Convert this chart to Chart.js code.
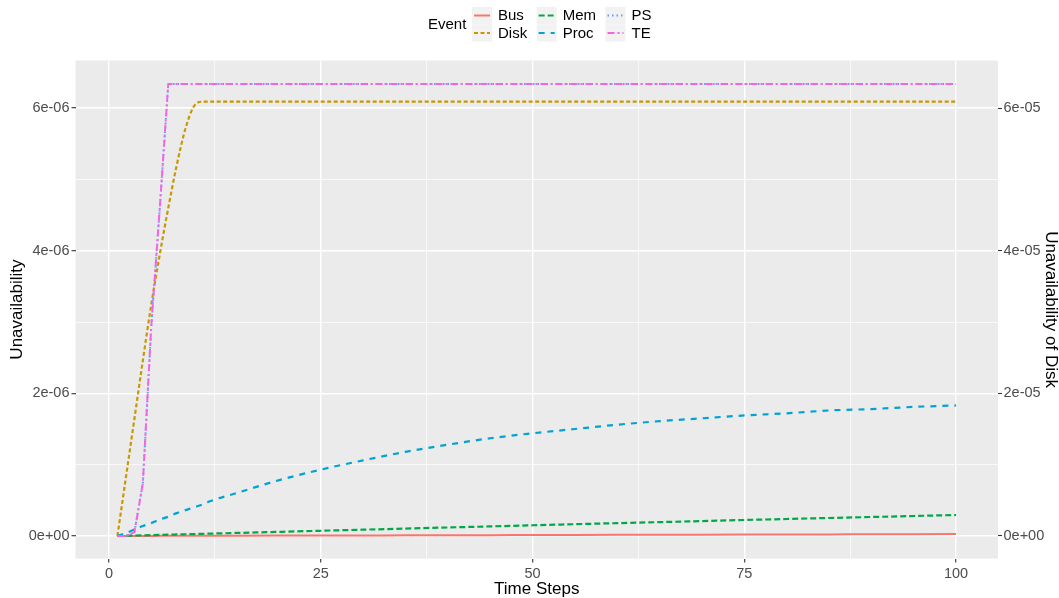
<!DOCTYPE html>
<html>
<head>
<meta charset="utf-8">
<title>Unavailability over time steps</title>
<script src="https://cdn.jsdelivr.net/npm/chart.js@4.4.1/dist/chart.umd.min.js"></script>
<style>
  html, body { margin: 0; padding: 0; background: #ffffff; }
  #wrap { width: 1059px; height: 598px; }
</style>
</head>
<body>
<div id="wrap"><canvas id="chart" width="1059" height="598"></canvas></div>
<script>
// ---- data -------------------------------------------------------------
const timeSteps = [1, 2, 3, 4, 5, 6, 7, 8, 9, 10, 11, 12,
  15, 20, 25, 30, 35, 40, 45, 50, 55, 60, 65, 70, 75, 80, 85, 90, 95, 100];

const busValues = [0, 0.0003e-6, 0.0005e-6, 0.0008e-6, 0.001e-6, 0.0013e-6, 0.0016e-6, 0.0018e-6,
  0.0021e-6, 0.0023e-6, 0.0026e-6, 0.0029e-6,
  0.0036e-6, 0.0049e-6, 0.0062e-6, 0.0075e-6, 0.0088e-6, 0.0101e-6, 0.0114e-6, 0.0127e-6,
  0.014e-6, 0.0153e-6, 0.0166e-6, 0.018e-6, 0.0193e-6, 0.0206e-6, 0.0219e-6, 0.0232e-6, 0.0245e-6, 0.0258e-6];

// Disk is read against the right-hand axis
const diskValues = [0, 8.2e-6, 16.4e-6, 24.6e-6, 32.5e-6, 39.5e-6, 46e-6, 52e-6,
  57e-6, 60.2e-6, 60.9e-6, 60.9e-6,
  60.9e-6, 60.9e-6, 60.9e-6, 60.9e-6, 60.9e-6, 60.9e-6, 60.9e-6, 60.9e-6,
  60.9e-6, 60.9e-6, 60.9e-6, 60.9e-6, 60.9e-6, 60.9e-6, 60.9e-6, 60.9e-6, 60.9e-6, 60.9e-6];

const memValues = [0, 0.003e-6, 0.006e-6, 0.009e-6, 0.012e-6, 0.015e-6, 0.018e-6, 0.021e-6,
  0.024e-6, 0.027e-6, 0.030e-6, 0.033e-6,
  0.042e-6, 0.057e-6, 0.073e-6, 0.088e-6, 0.104e-6, 0.119e-6, 0.134e-6, 0.150e-6,
  0.165e-6, 0.180e-6, 0.194e-6, 0.209e-6, 0.224e-6, 0.238e-6, 0.252e-6, 0.266e-6, 0.280e-6, 0.294e-6];

const procValues = [0, 0.04e-6, 0.09e-6, 0.14e-6, 0.18e-6, 0.23e-6, 0.27e-6, 0.32e-6,
  0.36e-6, 0.40e-6, 0.44e-6, 0.49e-6,
  0.60e-6, 0.78e-6, 0.93e-6, 1.06e-6, 1.18e-6, 1.28e-6, 1.37e-6, 1.44e-6,
  1.50e-6, 1.56e-6, 1.61e-6, 1.65e-6, 1.69e-6, 1.72e-6, 1.76e-6, 1.78e-6, 1.81e-6, 1.83e-6];

const psValues = [0, 0, 0.05e-6, 0.74e-6, 2.95e-6, 4.6e-6, 6.34e-6, 6.34e-6,
  6.34e-6, 6.34e-6, 6.34e-6, 6.34e-6,
  6.34e-6, 6.34e-6, 6.34e-6, 6.34e-6, 6.34e-6, 6.34e-6, 6.34e-6, 6.34e-6,
  6.34e-6, 6.34e-6, 6.34e-6, 6.34e-6, 6.34e-6, 6.34e-6, 6.34e-6, 6.34e-6, 6.34e-6, 6.34e-6];

const teValues = [0, 0, 0.05e-6, 0.74e-6, 2.95e-6, 4.6e-6, 6.34e-6, 6.34e-6,
  6.34e-6, 6.34e-6, 6.34e-6, 6.34e-6,
  6.34e-6, 6.34e-6, 6.34e-6, 6.34e-6, 6.34e-6, 6.34e-6, 6.34e-6, 6.34e-6,
  6.34e-6, 6.34e-6, 6.34e-6, 6.34e-6, 6.34e-6, 6.34e-6, 6.34e-6, 6.34e-6, 6.34e-6, 6.34e-6];

const xTicks = [0, 25, 50, 75, 100];
const xTickLabels = ['0', '25', '50', '75', '100'];
const yTicks = [0, 2e-6, 4e-6, 6e-6];
const yTickLabels = ['0e+00', '2e-06', '4e-06', '6e-06'];
const diskTicks = [0, 2e-5, 4e-5, 6e-5];
const diskTickLabels = ['0e+00', '2e-05', '4e-05', '6e-05'];

// ---- styling ------------------------------------------------------------
const FONT = "'Liberation Sans', Arial, Helvetica, sans-serif";
const TICK_GREY = '#4D4D4D';

const series = [
  { label: 'Bus',  values: busValues,  axis: 'y',  color: '#F8766D', dash: [],            width: 2,   smooth: true  },
  { label: 'Disk', values: diskValues, axis: 'y2', color: '#C79800', dash: [4, 2.5],      width: 2.2, smooth: true  },
  { label: 'Mem',  values: memValues,  axis: 'y',  color: '#00A84A', dash: [6, 3],        width: 2.2, smooth: true  },
  { label: 'Proc', values: procValues, axis: 'y',  color: '#00A3D1', dash: [6, 6],        width: 2.2, smooth: true  },
  { label: 'PS',   values: psValues,   axis: 'y',  color: '#619CFF', dash: [1.5, 3],      width: 2,   smooth: false },
  { label: 'TE',   values: teValues,   axis: 'y',  color: '#F564E3', dash: [7, 3, 2, 3],  width: 2,   smooth: false }
];

// minor grid positions sit halfway between the labelled breaks
const xGrid = [0, 12.5, 25, 37.5, 50, 62.5, 75, 87.5, 100];
const yGrid = [0, 1e-6, 2e-6, 3e-6, 4e-6, 5e-6, 6e-6];

const near = (a, b) => Math.abs(a - b) <= Math.abs(b) * 1e-9 + 1e-15;
const isMajor = (list, v) => list.some(t => near(v, t));

const datasets = series.map((s, i) => ({
  label: s.label,
  data: timeSteps.map((t, k) => ({ x: t, y: s.values[k] })),
  yAxisID: s.axis,
  borderColor: s.color,
  backgroundColor: s.color,
  borderDash: s.dash,
  borderWidth: s.width,
  borderCapStyle: 'butt',
  borderJoinStyle: 'round',
  cubicInterpolationMode: s.smooth ? 'monotone' : 'default',
  tension: 0,
  pointRadius: 0,
  fill: false,
  order: series.length - i   // later series are painted on top
}));

// grey plotting panel behind the grid
const panelPlugin = {
  id: 'panel',
  beforeDraw(chart) {
    const { ctx, chartArea: a } = chart;
    ctx.save();
    ctx.fillStyle = '#EBEBEB';
    ctx.fillRect(a.left, a.top, a.right - a.left, a.bottom - a.top);
    ctx.restore();
  }
};

// legend laid out in columns: title, then two keys per column
const legendPlugin = {
  id: 'eventLegend',
  afterDraw(chart) {
    const { ctx } = chart;
    const ds = chart.data.datasets;
    const rowsY = [15.5, 33];
    const keyW = 20, keyH = 17.3;
    ctx.save();
    ctx.font = '15px ' + FONT;
    ctx.textBaseline = 'middle';
    ctx.fillStyle = '#000000';
    ctx.textAlign = 'left';
    ctx.fillText('Event', 428, 25);
    let x = 472;
    for (let c = 0; c < 3; c++) {
      let maxW = 0;
      for (let r = 0; r < 2; r++) {
        const d = ds[c * 2 + r];
        const cy = rowsY[r];
        ctx.fillStyle = '#F2F2F2';
        ctx.fillRect(x, cy - keyH / 2, keyW, keyH);
        ctx.beginPath();
        ctx.strokeStyle = d.borderColor;
        ctx.lineWidth = d.borderWidth;
        ctx.setLineDash(d.borderDash);
        ctx.lineCap = 'butt';
        ctx.moveTo(x + 2, cy);
        ctx.lineTo(x + keyW - 2, cy);
        ctx.stroke();
        ctx.setLineDash([]);
        ctx.fillStyle = '#000000';
        ctx.fillText(d.label, x + keyW + 6, cy + 0.5);
        maxW = Math.max(maxW, ctx.measureText(d.label).width);
      }
      x = x + keyW + 6 + maxW + 9.5;
    }
    ctx.restore();
  }
};

const tickFont = { family: FONT, size: 14.5, lineHeight: 1.2 };
const titleFont = { family: FONT, size: 17, lineHeight: 1 };

new Chart(document.getElementById('chart'), {
  type: 'line',
  data: { datasets },
  plugins: [panelPlugin, legendPlugin],
  options: {
    responsive: false,
    animation: false,
    parsing: true,
    layout: { padding: { top: 60.5, left: 0, right: 0, bottom: 0 } },
    plugins: { legend: { display: false }, tooltip: { enabled: false } },
    scales: {
      x: {
        type: 'linear',
        position: 'bottom',
        min: -3.95,
        max: 104.95,
        bounds: 'data',
        afterBuildTicks: s => { s.ticks = xGrid.map(v => ({ value: v })); },
        afterFit: s => { s.height = 39.4; },
        border: { display: false },
        grid: {
          color: '#FFFFFF',
          lineWidth: c => (c.tick && isMajor(xTicks, c.tick.value)) ? 1.4 : 0.7,
          tickColor: c => (c.tick && isMajor(xTicks, c.tick.value)) ? '#333333' : 'rgba(0,0,0,0)',
          tickWidth: 1.1,
          tickLength: 4,
          drawTicks: true
        },
        ticks: {
          autoSkip: false,
          maxRotation: 0,
          padding: 2.5,
          color: TICK_GREY,
          font: tickFont,
          callback: v => {
            const i = xTicks.findIndex(t => near(v, t));
            return i >= 0 ? xTickLabels[i] : '';
          }
        },
        title: { display: true, text: 'Time Steps', color: '#000000', font: titleFont, padding: { top: 0, bottom: 0 } }
      },
      y: {
        type: 'linear',
        position: 'left',
        min: -0.3175e-6,
        max: 6.668e-6,
        bounds: 'data',
        afterBuildTicks: s => { s.ticks = yGrid.map(v => ({ value: v })); },
        afterFit: s => { s.width = 75.5; },
        border: { display: false },
        grid: {
          color: '#FFFFFF',
          lineWidth: c => (c.tick && isMajor(yTicks, c.tick.value)) ? 1.4 : 0.7,
          tickColor: c => (c.tick && isMajor(yTicks, c.tick.value)) ? '#333333' : 'rgba(0,0,0,0)',
          tickWidth: 1.1,
          tickLength: 4,
          drawTicks: true
        },
        ticks: {
          autoSkip: false,
          padding: 2,
          color: TICK_GREY,
          font: tickFont,
          callback: v => {
            const i = yTicks.findIndex(t => near(v, t));
            return i >= 0 ? yTickLabels[i] : '';
          }
        },
        title: { display: true, text: 'Unavailability', color: '#000000', font: titleFont, padding: { top: 9, bottom: 0 } }
      },
      y2: {
        type: 'linear',
        position: 'right',
        min: -3.175e-6,
        max: 66.68e-6,
        bounds: 'data',
        afterBuildTicks: s => { s.ticks = diskTicks.map(v => ({ value: v })); },
        afterFit: s => { s.width = 61; },
        border: { display: false },
        grid: {
          drawOnChartArea: false,
          tickColor: '#333333',
          tickWidth: 1.1,
          tickLength: 4,
          drawTicks: true
        },
        ticks: {
          autoSkip: false,
          padding: 1.5,
          color: TICK_GREY,
          font: tickFont,
          callback: v => {
            const i = diskTicks.findIndex(t => near(v, t));
            return i >= 0 ? diskTickLabels[i] : '';
          }
        },
        title: { display: true, text: 'Unavailability of Disk', color: '#000000', font: titleFont, padding: { top: 0, bottom: 0 } }
      }
    }
  }
});
</script>
</body>
</html>
